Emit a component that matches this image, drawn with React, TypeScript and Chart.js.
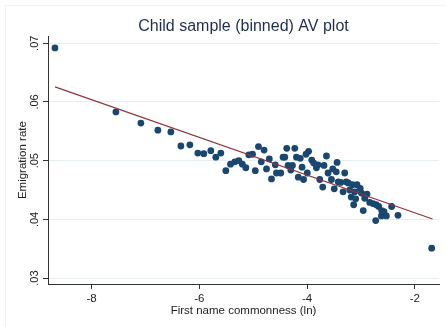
import React, { useEffect, useRef } from "react";
import { Chart, registerables } from "chart.js";

Chart.register(...registerables);

// Binned scatter: first name commonness (ln) vs. emigration rate
const xValues = [
  -8.681, -7.549, -7.085, -6.77, -6.529, -6.343, -6.176, -6.028, -5.917, -5.787,
  -5.694, -5.601, -5.508, -5.421, -5.341, -5.267, -5.202, -5.137, -5.082, -5.013,
  -4.961, -4.902, -4.85, -4.798, -4.753, -4.701, -4.66, -4.59, -4.568, -4.488,
  -4.445, -4.414, -4.377, -4.353, -4.302, -4.271, -4.228, -4.197, -4.163, -4.126,
  -4.093, -4.065, -4.019, -3.996, -3.972, -3.913, -3.876, -3.826, -3.796, -3.764,
  -3.709, -3.685, -3.64, -3.61, -3.547, -3.523, -3.495, -3.458, -3.443, -3.421,
  -3.375, -3.332, -3.301, -3.273, -3.236, -3.208, -3.18, -3.158, -3.134, -3.115,
  -3.097, -3.072, -3.013, -2.991, -2.957, -2.929, -2.887, -2.837, -2.776, -2.725,
  -2.716, -2.67, -2.62, -2.614, -2.571, -2.527, -2.429, -2.312, -1.686,
];
const yValues = [
  0.0692, 0.0583, 0.0564, 0.0552, 0.0549, 0.0525, 0.0527, 0.0513, 0.0512, 0.0517,
  0.0506, 0.0513, 0.0483, 0.0494, 0.0498, 0.05, 0.0494, 0.0488, 0.051, 0.0511,
  0.0483, 0.0524, 0.0498, 0.0518, 0.0486, 0.0503, 0.0469, 0.0493, 0.0479, 0.0479,
  0.0506, 0.0506, 0.0521, 0.0492, 0.0484, 0.0492, 0.0521, 0.0506, 0.0472, 0.0504,
  0.0489, 0.0468, 0.0511, 0.0479, 0.0516, 0.0501, 0.0496, 0.0488, 0.0493, 0.0468,
  0.0455, 0.0492, 0.0508, 0.0479, 0.0468, 0.0486, 0.0452, 0.0481, 0.0497, 0.0464,
  0.0463, 0.0447, 0.0479, 0.0464, 0.0462, 0.045, 0.0438, 0.0459, 0.0425, 0.0447,
  0.0435, 0.0459, 0.0453, 0.0445, 0.0415, 0.0436, 0.0443, 0.0429, 0.0427, 0.0398,
  0.0425, 0.0422, 0.0406, 0.0415, 0.0413, 0.0406, 0.0422, 0.0407, 0.0351,
];

// Linear fit line endpoints
const fitX = [-8.68, -1.67];
const fitY = [0.06256, 0.04007];

// Axis ticks
const xTicks = [-8, -6, -4, -2];
const yTicks = [0.03, 0.04, 0.05, 0.06, 0.07];

const FONT = "'Liberation Sans', Arial, sans-serif";

const frame = {
  id: "frame",
  beforeDraw(chart: any) {
    const ctx = chart.ctx;
    ctx.save();
    ctx.fillStyle = "#ffffff";
    ctx.fillRect(0, 0, chart.width, chart.height);
    ctx.strokeStyle = "#eef3f5";
    ctx.lineWidth = 1;
    ctx.strokeRect(5.5, 5.5, chart.width, chart.height);
    ctx.restore();
  },
};

export default function App() {
  const ref = useRef<HTMLCanvasElement | null>(null);

  useEffect(() => {
    if (!ref.current) return;
    const chart = new Chart(ref.current, {
      type: "scatter",
      data: {
        datasets: [
          {
            type: "line",
            data: fitX.map((x, i) => ({ x, y: fitY[i] })),
            borderColor: "#90353b",
            borderWidth: 1.2,
            pointRadius: 0,
            fill: false,
            order: 1,
          } as any,
          {
            data: xValues.map((x, i) => ({ x, y: yValues[i] })),
            backgroundColor: "#1a476f",
            borderWidth: 0,
            pointRadius: 3.4,
            order: 2,
          },
        ],
      },
      options: {
        responsive: false,
        animation: false,
        layout: { padding: { left: 0, right: 7, top: 0, bottom: 0 } },
        plugins: {
          legend: { display: false },
          tooltip: { enabled: false },
          title: {
            display: true,
            fullSize: false,
            text: "Child sample (binned) AV plot",
            color: "#1f2d4d",
            font: { family: FONT, size: 16, weight: "normal" },
            padding: { top: 17, bottom: 0 },
          },
        },
        scales: {
          x: {
            type: "linear",
            min: -8.81,
            max: -1.55,
            afterBuildTicks: (s: any) => {
              s.ticks = xTicks.map((v) => ({ value: v }));
            },
            afterFit: (s: any) => {
              s.height = 43;
            },
            grid: {
              display: true,
              drawOnChartArea: false,
              drawTicks: true,
              tickLength: 5,
              tickColor: "#333333",
            },
            border: { display: true, color: "#333333", width: 1 },
            ticks: {
              color: "#222222",
              padding: 3,
              font: { family: FONT, size: 11.5 },
              callback: (v: any) => String(v),
            },
            title: {
              display: true,
              text: "First name commonness (ln)",
              color: "#222222",
              font: { family: FONT, size: 11.5 },
              padding: { top: 0, bottom: 9.2 },
            },
          },
          y: {
            type: "linear",
            min: 0.029,
            max: 0.0712,
            afterBuildTicks: (s: any) => {
              s.ticks = yTicks.map((v) => ({ value: v }));
            },
            afterFit: (s: any) => {
              s.width = 48;
            },
            grid: {
              display: true,
              drawOnChartArea: true,
              drawTicks: true,
              tickLength: 5,
              color: "#e6eef0",
              tickColor: "#333333",
            },
            border: { display: true, color: "#333333", width: 1 },
            ticks: {
              color: "#222222",
              padding: 0,
              minRotation: 90,
              maxRotation: 90,
              crossAlign: "center",
              font: { family: FONT, size: 11 },
              callback: (v: any) => Number(v).toFixed(2).replace(/^0/, ""),
            },
            title: {
              display: true,
              text: "Emigration rate",
              color: "#222222",
              font: { family: FONT, size: 11.5 },
              padding: { top: 16.2, bottom: 0 },
            },
          },
        },
      },
      plugins: [frame],
    });
    return () => chart.destroy();
  }, []);

  return (
    <div style={{ position: "fixed", left: 0, top: 0, width: 446, height: 327 }}>
      <canvas ref={ref} width={446} height={327} />
    </div>
  );
}
